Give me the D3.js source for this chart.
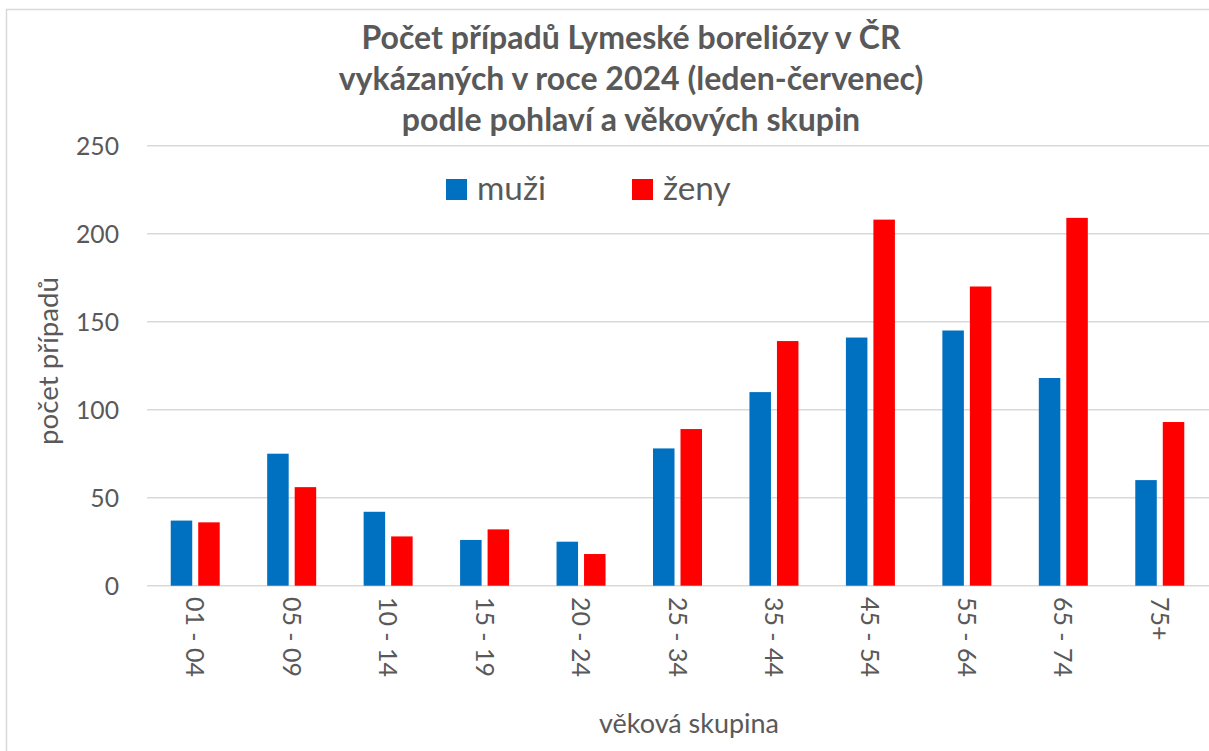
<!DOCTYPE html>
<html>
<head>
<meta charset="utf-8">
<script src="https://cdn.jsdelivr.net/npm/d3@7"></script>
<style>
  html, body { margin: 0; padding: 0; background: #fff; }
  svg { display: block; }
  text { font-family: Lato, "Open Sans", sans-serif; fill: #595959; }
</style>
</head>
<body>
<svg id="chart" width="1209" height="751"></svg>
<script>
// ---- data ----
const categories = ["01 - 04", "05 - 09", "10 - 14", "15 - 19", "20 - 24", "25 - 34", "35 - 44", "45 - 54", "55 - 64", "65 - 74", "75+"];
const muzi = [37, 75, 42, 26, 25, 78, 110, 141, 145, 118, 60];
const zeny = [36, 56, 28, 32, 18, 89, 139, 208, 170, 209, 93];
const seriesNames = ["muži", "ženy"];
const seriesColors = ["#0070C0", "#FF0000"];
const yTicks = [0, 50, 100, 150, 200, 250];
const titleLines = [
  "Počet případů Lymeské boreliózy v ČR",
  "vykázaných v roce 2024 (leden-červenec)",
  "podle pohlaví a věkových skupin"
];
const yAxisTitle = "počet případů";
const xAxisTitle = "věková skupina";

// ---- layout ----
const svg = d3.select("#chart");
const plot = { left: 147, right: 1208, top: 145.7, bottom: 585.7 };

function fitWidth(sel, target) {
  const w = sel.node().getComputedTextLength();
  const fs = parseFloat(sel.attr("font-size"));
  const nfs = fs * target / w;
  sel.attr("font-size", nfs);
  return nfs;
}

// chart border
svg.append("rect")
  .attr("x", 6.5).attr("y", 9.5)
  .attr("width", 1300).attr("height", 800)
  .attr("fill", "none").attr("stroke", "#d9d9d9").attr("stroke-width", 1.5);

const x = d3.scaleBand().domain(categories).range([plot.left, plot.right]).padding(0);
const y = d3.scaleLinear().domain([0, 250]).range([plot.bottom, plot.top]);
const inner = d3.scaleBand().domain(seriesNames).range([-24.5, 24.5]).paddingInner(0.218).paddingOuter(0);

// gridlines
svg.append("g").selectAll("line").data(yTicks).join("line")
  .attr("x1", plot.left).attr("x2", 1209)
  .attr("y1", d => y(d)).attr("y2", d => y(d))
  .attr("stroke", "#d9d9d9").attr("stroke-width", 1.4);

// y tick labels
const yLab = svg.append("g").selectAll("text").data(yTicks).join("text")
  .attr("x", 119).attr("y", d => y(d))
  .attr("dy", "0.36em")
  .attr("text-anchor", "end")
  .attr("font-size", 25)
  .text(d => d);
// fit y tick font from "250"
{
  const ref = yLab.filter(d => d === 250);
  const fs = fitWidth(ref, 43);
  yLab.attr("font-size", fs);
}

// bars
const rows = categories.map((c, i) => ({ cat: c, vals: [muzi[i], zeny[i]] }));
const grp = svg.append("g").selectAll("g").data(rows).join("g")
  .attr("transform", d => `translate(${x(d.cat) + x.bandwidth() / 2},0)`);
grp.selectAll("rect").data(d => d.vals.map((v, j) => ({ s: seriesNames[j], v, j }))).join("rect")
  .attr("x", d => inner(d.s))
  .attr("width", inner.bandwidth())
  .attr("y", d => y(d.v))
  .attr("height", d => y(0) - y(d.v))
  .attr("fill", d => seriesColors[d.j]);

// x tick labels (rotated 90°)
const xLab = svg.append("g").selectAll("text").data(categories).join("text")
  .attr("transform", d => `translate(${x(d) + x.bandwidth() / 2},597) rotate(90)`)
  .attr("text-anchor", "start")
  .attr("dy", "0.36em")
  .attr("font-size", 27)
  .text(d => d);
{
  const ref = xLab.filter(d => d === "01 - 04");
  const fs = fitWidth(ref, 80);
  xLab.attr("font-size", fs);
}

// title
const tBase = [49, 90, 131];
const tWidths = [535, 585, 462];
const tl = svg.append("g").selectAll("text").data(titleLines).join("text")
  .attr("x", 631).attr("y", (d, i) => tBase[i])
  .attr("text-anchor", "middle")
  .attr("font-weight", "bold")
  .attr("font-size", 27)
  .text(d => d);
{
  const ref = tl.filter((d, i) => i === 1);
  const fs = fitWidth(ref, tWidths[1]);
  tl.attr("font-size", fs);
}

// legend
const legendX = [446, 632];
const lg = svg.append("g").selectAll("g").data(seriesNames).join("g")
  .attr("transform", (d, i) => `translate(${legendX[i]},179)`);
lg.append("rect").attr("width", 21).attr("height", 21).attr("fill", (d, i) => seriesColors[i]);
const lgt = lg.append("text").attr("x", 31).attr("y", 21).attr("font-size", 34).text(d => d);
{
  const fs = fitWidth(lgt.filter((d, i) => i === 0), 69);
  lgt.attr("font-size", fs);
}

// axis titles
const yt = svg.append("text")
  .attr("transform", "translate(58,361) rotate(-90)")
  .attr("text-anchor", "middle")
  .attr("font-size", 22)
  .text(yAxisTitle);
fitWidth(yt, 168);

const xt = svg.append("text")
  .attr("x", 689).attr("y", 733)
  .attr("text-anchor", "middle")
  .attr("font-size", 22)
  .text(xAxisTitle);
fitWidth(xt, 180);
</script>
</body>
</html>
